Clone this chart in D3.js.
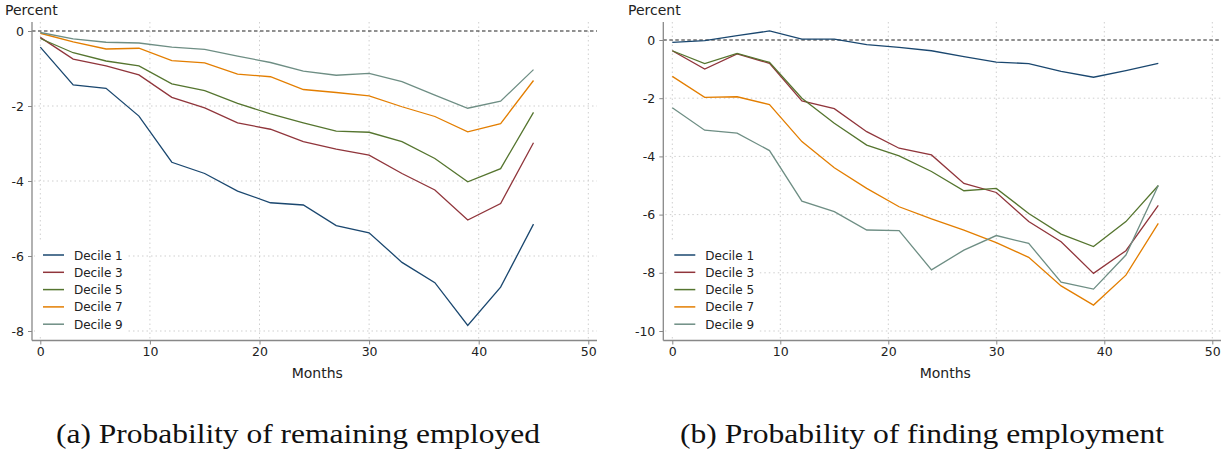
<!DOCTYPE html>
<html>
<head>
<meta charset="utf-8">
<script src="https://cdn.jsdelivr.net/npm/d3@7"></script>
<style>
  body { margin: 0; background: #fff; }
  svg { display: block; }
  text { font-family: 'DejaVu Sans', sans-serif; fill: #222; }
  .caption { font-family: 'Liberation Serif', 'DejaVu Serif', serif; fill: #111; }
</style>
</head>
<body>
<svg width="1225" height="456"></svg>
<script>
'use strict';

const months = [0, 3, 6, 9, 12, 15, 18, 21, 24, 27, 30, 33, 36, 39, 42, 45]
const deciles = ['Decile 1', 'Decile 3', 'Decile 5', 'Decile 7', 'Decile 9']
const colors = ['#1a476f', '#90353b', '#55752f', '#e37e00', '#6e8e84']

// (a) remaining employed
const empD1 = [-0.43, -1.44, -1.53, -2.27, -3.50, -3.80, -4.27, -4.58, -4.64, -5.19, -5.38, -6.17, -6.71, -7.85, -6.83, -5.15]
const empD3 = [-0.17, -0.75, -0.93, -1.17, -1.77, -2.05, -2.45, -2.62, -2.95, -3.15, -3.31, -3.80, -4.24, -5.04, -4.60, -2.98]
const empD5 = [-0.20, -0.58, -0.80, -0.93, -1.41, -1.59, -1.93, -2.21, -2.45, -2.67, -2.70, -2.95, -3.40, -4.02, -3.67, -2.17]
const empD7 = [-0.06, -0.29, -0.48, -0.46, -0.79, -0.85, -1.15, -1.22, -1.56, -1.64, -1.73, -2.02, -2.28, -2.69, -2.47, -1.32]
const empD9 = [-0.04, -0.21, -0.30, -0.32, -0.43, -0.49, -0.67, -0.84, -1.07, -1.18, -1.13, -1.35, -1.71, -2.06, -1.87, -1.03]

// (b) finding employment
const findD1 = [-0.08, -0.02, 0.15, 0.31, 0.03, 0.03, -0.16, -0.25, -0.37, -0.57, -0.76, -0.81, -1.08, -1.28, -1.05, -0.80]
const findD3 = [-0.37, -1.00, -0.48, -0.80, -2.09, -2.36, -3.15, -3.72, -3.95, -4.93, -5.24, -6.24, -6.93, -8.02, -7.24, -5.68]
const findD5 = [-0.37, -0.81, -0.46, -0.77, -2.00, -2.86, -3.61, -3.98, -4.52, -5.18, -5.10, -5.96, -6.67, -7.10, -6.24, -5.00]
const findD7 = [-1.25, -1.97, -1.95, -2.22, -3.49, -4.39, -5.10, -5.73, -6.15, -6.53, -6.96, -7.47, -8.45, -9.11, -8.08, -6.30]
const findD9 = [-2.33, -3.10, -3.20, -3.80, -5.54, -5.90, -6.53, -6.55, -7.90, -7.22, -6.72, -6.99, -8.32, -8.56, -7.39, -5.00]

const xTicks = [0, 10, 20, 30, 40, 50]
const yTicksA = [0, -2, -4, -6, -8]
const yTicksB = [0, -2, -4, -6, -8, -10]

const svg = d3.select('svg')

function drawPanel(opts) {
  const g = svg.append('g')
  const x = d3.scaleLinear().domain([0, 50]).range(opts.xRange)
  const y = d3.scaleLinear().domain(opts.yDomain).range(opts.yRange)
  const left = opts.frame[0], right = opts.frame[1], top = opts.frame[2], bottom = opts.frame[3]

  // grid
  const grid = g.append('g')
  grid.selectAll('line.gy').data(opts.yTicks.filter((d) => d !== 0)).enter().append('line')
    .attr('x1', left + 2).attr('x2', right)
    .attr('y1', (d) => y(d)).attr('y2', (d) => y(d))
    .attr('stroke', '#cfcfcf').attr('stroke-width', 1).attr('stroke-dasharray', '1.5,3')
  grid.selectAll('line.gx').data(xTicks).enter().append('line')
    .attr('x1', (d) => x(d)).attr('x2', (d) => x(d))
    .attr('y1', top).attr('y2', bottom - 2)
    .attr('stroke', '#cfcfcf').attr('stroke-width', 1).attr('stroke-dasharray', '1.5,3')

  // zero line
  g.append('line')
    .attr('x1', left).attr('x2', right)
    .attr('y1', y(0)).attr('y2', y(0))
    .attr('stroke', '#222').attr('stroke-width', 1.2).attr('stroke-dasharray', '3.5,2.5')

  // series
  const line = d3.line().x((d, i) => x(months[i])).y((d) => y(d))
  opts.series.forEach((s, i) => {
    g.append('path').attr('d', line(s))
      .attr('fill', 'none').attr('stroke', colors[i]).attr('stroke-width', 1.3)
  })

  // axes
  const yAxis = d3.axisLeft(y).tickValues(opts.yTicks).tickFormat((d) => String(d))
    .tickSize(4).tickPadding(4).tickSizeOuter(0)
  const ya = g.append('g').attr('transform', `translate(${left},0)`).call(yAxis)
  ya.select('.domain').remove()
  g.append('line').attr('x1', left).attr('x2', left).attr('y1', top).attr('y2', bottom)
    .attr('stroke', '#888').attr('stroke-width', 1.3)

  const xAxis = d3.axisBottom(x).tickValues(xTicks).tickFormat((d) => String(d))
    .tickSize(4).tickPadding(3).tickSizeOuter(0)
  const xa = g.append('g').attr('transform', `translate(0,${bottom})`).call(xAxis)
  xa.select('.domain').remove()
  g.append('line').attr('x1', left).attr('x2', right).attr('y1', bottom).attr('y2', bottom)
    .attr('stroke', '#888').attr('stroke-width', 1.3)

  g.selectAll('.tick line').attr('stroke', '#888')
  g.selectAll('.tick text').style('font-size', '12.5px').attr('fill', '#222')

  // titles
  g.append('text').attr('x', opts.percentX).attr('y', 15).style('font-size', '14px').text('Percent')
  g.append('text').attr('x', (x(0) + x(50)) / 2 + 3).attr('y', 378).attr('text-anchor', 'middle')
    .style('font-size', '14px').text('Months')

  // legend
  const lg = g.append('g').attr('transform', `translate(${left + 3},241)`)
  lg.append('rect').attr('width', 93).attr('height', 96).attr('fill', '#fff')
  deciles.forEach((d, i) => {
    const yy = 14 + i * 17.3
    lg.append('line').attr('x1', 8).attr('x2', 29).attr('y1', yy).attr('y2', yy)
      .attr('stroke', colors[i]).attr('stroke-width', 1.5)
    lg.append('text').attr('x', 39).attr('y', yy + 4.5).style('font-size', '12px').text(d)
  })

  // caption
  svg.append('text').attr('class', 'caption')
    .attr('x', opts.captionX).attr('y', 443).attr('text-anchor', 'middle')
    .attr('textLength', 484).attr('lengthAdjust', 'spacingAndGlyphs')
    .style('font-size', '28px').text(opts.caption)
}

drawPanel({
  xRange: [40.3, 588.3], yDomain: [0, -8], yRange: [31, 331],
  frame: [32, 597, 22, 340.5], yTicks: yTicksA,
  series: [empD1, empD3, empD5, empD7, empD9],
  percentX: 5, caption: '(a) Probability of remaining employed', captionX: 298
})

drawPanel({
  xRange: [672.3, 1212.3], yDomain: [0, -10], yRange: [40, 331],
  frame: [663.3, 1221, 22, 340.5], yTicks: yTicksB,
  series: [findD1, findD3, findD5, findD7, findD9],
  percentX: 628, caption: '(b) Probability of finding employment', captionX: 922
})
</script>
</body>
</html>
